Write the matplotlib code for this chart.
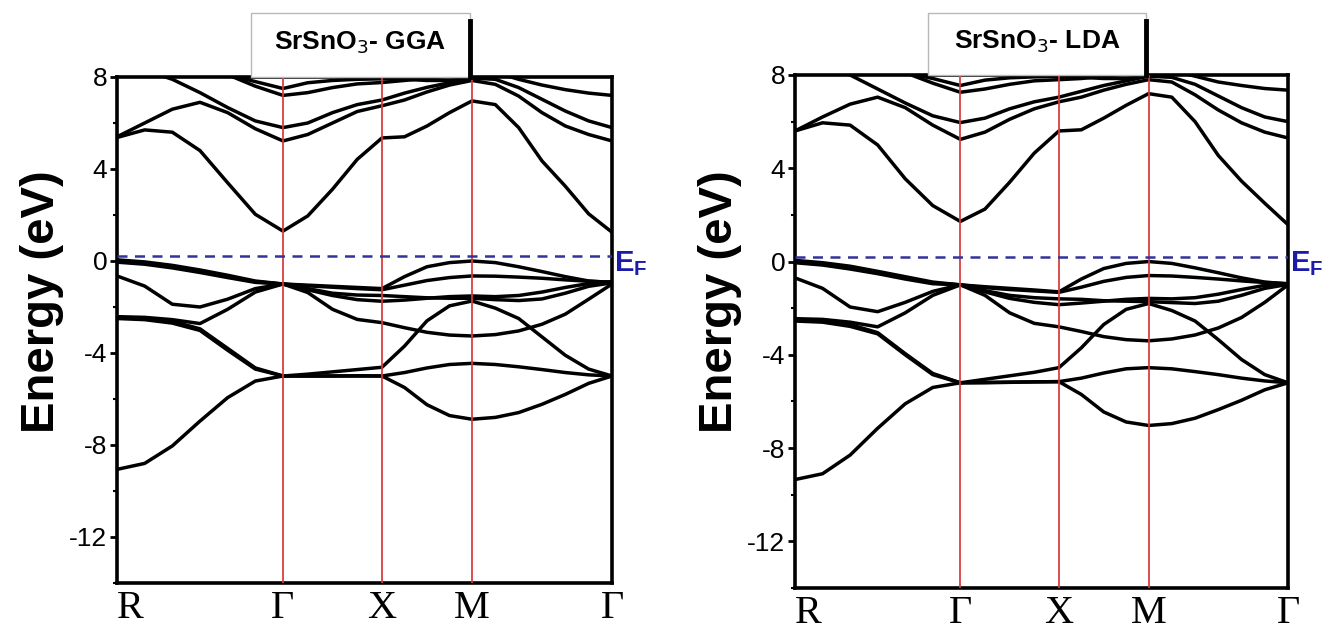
import numpy as np
import matplotlib
matplotlib.use("Agg")
import matplotlib.pyplot as plt
from matplotlib.patches import Rectangle
from matplotlib.lines import Line2D
from matplotlib.ticker import MultipleLocator

# ---------------- data ----------------
K_NODES = [0.0, 1.66, 2.65, 3.55, 4.95]          # R, Gamma, X, M, Gamma
K_LABELS = ["R", "Γ", "X", "M", "Γ"]
SEG_STEPS = [6, 4, 4, 6]                          # samples per path segment
Y_TICKS = [8, 4, 0, -4, -8, -12]
Y_RANGE = [-14, 8]
E_FERMI = 0.2
TITLES = ["SrSnO$_3$- GGA", "SrSnO$_3$- LDA"]

# GGA valence bands (eV)
GGA_V1 = [-9.06, -8.8, -8.04, -6.96, -5.94, -5.22, -5.0, -5.0, -5.0, -4.99, -5.0, -5.5, -6.25, -6.72, -6.88, -6.8, -6.59, -6.23, -5.8, -5.32, -5.0]
GGA_V2 = [-2.45, -2.5, -2.62, -2.95, -3.8, -4.65, -5.0, -5.0, -5.0, -5.0, -5.0, -4.85, -4.65, -4.5, -4.45, -4.5, -4.6, -4.72, -4.85, -4.95, -5.0]
GGA_V3 = [-2.5, -2.55, -2.7, -3.02, -3.88, -4.7, -5.0, -4.92, -4.82, -4.72, -4.62, -3.7, -2.6, -1.95, -1.74, -2.05, -2.5, -3.3, -4.1, -4.7, -5.0]
GGA_V4 = [-2.42, -2.45, -2.55, -2.72, -2.1, -1.35, -1.0, -1.2, -1.4, -1.48, -1.5, -1.55, -1.6, -1.62, -1.62, -1.68, -1.72, -1.65, -1.4, -1.1, -0.95]
GGA_V5 = [-0.65, -1.09, -1.88, -2.0, -1.66, -1.2, -1.0, -1.37, -2.1, -2.54, -2.68, -2.9, -3.1, -3.22, -3.26, -3.2, -3.04, -2.75, -2.31, -1.66, -1.0]
GGA_V6 = [0.05, -0.04, -0.19, -0.39, -0.62, -0.87, -1.0, -1.05, -1.1, -1.15, -1.2, -0.68, -0.25, -0.07, 0.0, -0.07, -0.25, -0.46, -0.68, -0.87, -0.94]
GGA_V7 = [0.0, -0.1, -0.25, -0.45, -0.68, -0.9, -1.0, -1.08, -1.14, -1.2, -1.25, -1.05, -0.85, -0.72, -0.65, -0.66, -0.7, -0.75, -0.82, -0.88, -0.92]
GGA_V8 = [-0.05, -0.14, -0.3, -0.5, -0.72, -0.93, -1.0, -1.25, -1.5, -1.68, -1.75, -1.7, -1.62, -1.55, -1.52, -1.55, -1.5, -1.35, -1.15, -0.98, -0.9]
# GGA conduction bands (eV)
GGA_C1 = [5.37, 5.7, 5.6, 4.8, 3.4, 2.03, 1.3, 1.96, 3.12, 4.42, 5.35, 5.4, 5.87, 6.45, 6.96, 6.8, 5.8, 4.35, 3.25, 2.05, 1.25]
GGA_C2 = [5.4, 6.0, 6.6, 6.9, 6.45, 5.75, 5.22, 5.5, 6.0, 6.5, 6.75, 7.0, 7.35, 7.65, 7.85, 7.68, 7.17, 6.45, 5.87, 5.5, 5.22]
GGA_C3 = [8.6, 8.3, 7.9, 7.32, 6.67, 6.09, 5.8, 6.0, 6.45, 6.8, 7.0, 7.3, 7.55, 7.75, 7.95, 7.9, 7.54, 7.03, 6.52, 6.09, 5.8]
GGA_C4 = [9.5, 9.2, 8.9, 8.6, 8.1, 7.6, 7.2, 7.32, 7.54, 7.7, 7.76, 7.85, 7.95, 8.05, 8.1, 8.2, 7.9, 7.65, 7.45, 7.3, 7.2]
GGA_C5 = [9.0, 8.8, 8.6, 8.4, 8.1, 7.8, 7.5, 7.75, 7.85, 7.9, 7.92, 7.9, 7.85, 7.85, 7.95, 8.1, 8.4, 8.6, 8.8, 9.0, 9.1]

# LDA valence bands (eV)
LDA_V1 = [-9.35, -9.1, -8.3, -7.15, -6.1, -5.4, -5.2, -5.2, -5.18, -5.16, -5.15, -5.7, -6.45, -6.88, -7.03, -6.95, -6.72, -6.35, -5.95, -5.5, -5.2]
LDA_V2 = [-2.5, -2.55, -2.7, -3.05, -3.95, -4.8, -5.2, -5.18, -5.17, -5.16, -5.15, -5.0, -4.78, -4.6, -4.55, -4.6, -4.72, -4.85, -5.0, -5.12, -5.2]
LDA_V3 = [-2.55, -2.6, -2.78, -3.1, -4.0, -4.85, -5.2, -5.05, -4.9, -4.75, -4.55, -3.7, -2.7, -2.05, -1.8, -2.1, -2.55, -3.35, -4.2, -4.85, -5.2]
LDA_V4 = [-2.45, -2.48, -2.6, -2.8, -2.2, -1.45, -1.0, -1.25, -1.45, -1.55, -1.6, -1.62, -1.68, -1.7, -1.72, -1.76, -1.8, -1.7, -1.45, -1.15, -0.98]
LDA_V5 = [-0.7, -1.15, -1.95, -2.15, -1.75, -1.28, -1.0, -1.45, -2.2, -2.65, -2.8, -3.0, -3.22, -3.35, -3.4, -3.32, -3.15, -2.85, -2.4, -1.75, -1.0]
LDA_V6 = [0.05, -0.05, -0.2, -0.42, -0.65, -0.88, -1.0, -1.08, -1.15, -1.22, -1.3, -0.75, -0.3, -0.08, 0.0, -0.08, -0.27, -0.48, -0.7, -0.88, -0.96]
LDA_V7 = [0.0, -0.1, -0.26, -0.48, -0.7, -0.92, -1.0, -1.12, -1.2, -1.26, -1.32, -1.1, -0.85, -0.68, -0.6, -0.62, -0.68, -0.75, -0.83, -0.9, -0.95]
LDA_V8 = [-0.05, -0.15, -0.32, -0.52, -0.75, -0.95, -1.0, -1.3, -1.58, -1.75, -1.85, -1.78, -1.7, -1.62, -1.58, -1.6, -1.55, -1.4, -1.2, -1.02, -0.95]
# LDA conduction bands (eV)
LDA_C1 = [5.6, 5.95, 5.85, 5.0, 3.55, 2.4, 1.72, 2.25, 3.4, 4.65, 5.6, 5.65, 6.15, 6.7, 7.2, 7.05, 6.0, 4.55, 3.45, 2.5, 1.58]
LDA_C2 = [5.6, 6.2, 6.75, 7.05, 6.6, 5.85, 5.24, 5.55, 6.1, 6.55, 6.85, 7.05, 7.35, 7.6, 7.8, 7.7, 7.15, 6.5, 5.95, 5.55, 5.3]
LDA_C3 = [8.7, 8.4, 8.0, 7.4, 6.8, 6.25, 5.96, 6.15, 6.55, 6.85, 7.05, 7.3, 7.55, 7.75, 7.95, 7.9, 7.6, 7.1, 6.6, 6.2, 6.0]
LDA_C4 = [9.5, 9.2, 8.9, 8.6, 8.1, 7.65, 7.26, 7.4, 7.6, 7.75, 7.8, 7.85, 7.95, 8.05, 8.1, 8.2, 7.95, 7.7, 7.55, 7.42, 7.35]
LDA_C5 = [9.0, 8.8, 8.6, 8.4, 8.1, 7.85, 7.55, 7.78, 7.88, 7.92, 7.94, 7.9, 7.85, 7.85, 7.95, 8.1, 8.4, 8.6, 8.8, 9.0, 9.1]

GGA_BANDS = [GGA_V1, GGA_V2, GGA_V3, GGA_V4, GGA_V5, GGA_V6, GGA_V7, GGA_V8,
             GGA_C1, GGA_C2, GGA_C3, GGA_C4, GGA_C5]
LDA_BANDS = [LDA_V1, LDA_V2, LDA_V3, LDA_V4, LDA_V5, LDA_V6, LDA_V7, LDA_V8,
             LDA_C1, LDA_C2, LDA_C3, LDA_C4, LDA_C5]

# ---------------- drawing ----------------
SERIF = ["Liberation Serif", "DejaVu Serif"]
SANS = ["Liberation Sans", "DejaVu Sans"]

fig = plt.figure(figsize=(13.33, 6.40), dpi=100)
W, H = 1333.0, 640.0


def kpath():
    ks = [K_NODES[0]]
    for i, n in enumerate(SEG_STEPS):
        ks.extend(np.linspace(K_NODES[i], K_NODES[i + 1], n + 1)[1:])
    return np.array(ks)


def px_rect(x0, y0, x1, y1):
    return [x0 / W, 1 - y1 / H, (x1 - x0) / W, (y1 - y0) / H]


def panel(rect, bands, title, box, ylab_x):
    ax = fig.add_axes(px_rect(*rect))
    k = kpath()
    for b in bands:
        ax.plot(k, b, color="black", lw=2.5, solid_joinstyle="round",
                solid_capstyle="round", zorder=3)
    for kn in K_NODES[1:4]:
        ax.axvline(kn, color="#d83a3a", lw=1.4, alpha=0.9, zorder=4)
    ax.axhline(E_FERMI, color="#33339a", lw=1.8, ls=(0, (4, 3)), zorder=5)
    ax.set_xlim(K_NODES[0], K_NODES[-1])
    ax.set_ylim(*Y_RANGE)
    ax.set_xticks(K_NODES)
    ax.set_xticklabels(K_LABELS, family=SERIF, fontsize=29)
    ax.get_xticklabels()[0].set_horizontalalignment("left")
    ax.tick_params(axis="x", length=0, pad=5)
    ax.set_yticks(Y_TICKS)
    ax.set_yticklabels([str(t) for t in Y_TICKS], family=SANS, fontsize=19)
    ax.yaxis.set_minor_locator(MultipleLocator(2))
    ax.tick_params(axis="y", which="major", direction="out", length=5, width=2, pad=2)
    ax.tick_params(axis="y", which="minor", direction="out", length=3, width=1.5)
    for s in ax.spines.values():
        s.set_linewidth(2.6)
    # E_F label
    ax.text(1.005, E_FERMI - 0.3, "E$_\\mathregular{F}$", transform=ax.get_yaxis_transform(),
            color="#1c1ca8", fontsize=21, fontweight="bold", family=SANS,
            ha="left", va="center")
    # y label
    fig.text(ylab_x / W, 1 - 302 / H, "Energy (eV)", rotation=90, family=SANS,
             fontsize=34, fontweight="bold", ha="center", va="center")
    # title box
    bx0, by0, bx1, by1 = box
    fig.patches.append(Rectangle((bx0 / W, 1 - by1 / H), (bx1 - bx0) / W, (by1 - by0) / H,
                                 transform=fig.transFigure, facecolor="white",
                                 edgecolor="#b8b8b8", lw=1.0, zorder=1))
    fig.lines.append(Line2D([bx1 / W, bx1 / W], [1 - (by0 + 8) / H, 1 - by1 / H],
                            transform=fig.transFigure, color="black", lw=3.5))
    fig.text((bx0 + bx1) / 2 / W, 1 - (by0 + by1) / 2 / H + 0.004, title,
             family=SANS, fontsize=19, fontweight="bold",
             ha="center", va="center")
    return ax


panel((117, 77, 612, 583), GGA_BANDS, TITLES[0], (251, 13, 470, 77), 42)
panel((795, 75, 1288, 588), LDA_BANDS, TITLES[1], (928, 13, 1146, 75), 720)

fig.savefig("out.png", dpi=100)
